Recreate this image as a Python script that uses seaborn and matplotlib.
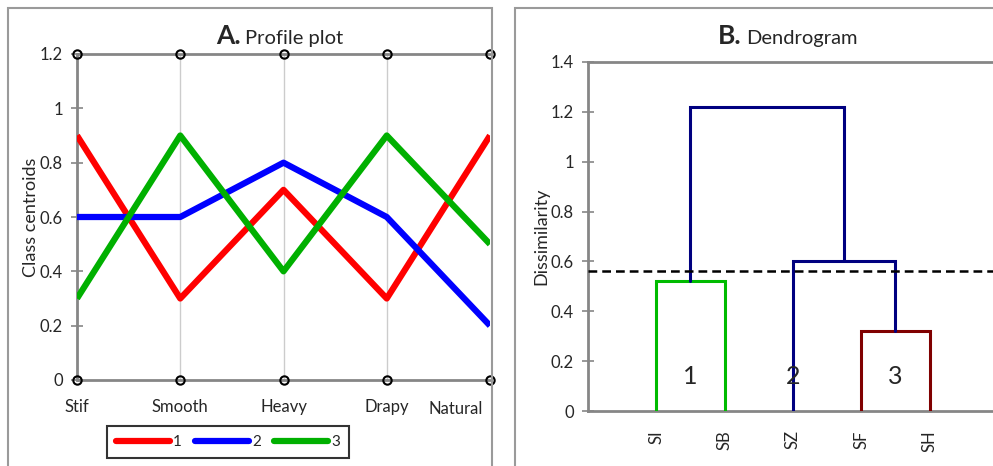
import seaborn as sns
import pandas as pd
import matplotlib.pyplot as plt
import numpy as np
from matplotlib.patches import Rectangle

# profile plot data
attributes = ['Stif', 'Smooth', 'Heavy', 'Drapy', 'Natural']
class1 = [0.9, 0.3, 0.7, 0.3, 0.9]
class2 = [0.6, 0.6, 0.8, 0.6, 0.2]
class3 = [0.3, 0.9, 0.4, 0.9, 0.5]
class_names = ['1', '2', '3']
class_colors = ['#ff0000', '#0000ff', '#00b000']

# dendrogram data
leaves = ['SI', 'SB', 'SZ', 'SF', 'SH']
# (left, right, height); new clusters get ids 5, 6, ...
merges = [('SF', 'SH', 0.32), ('SI', 'SB', 0.52), ('SZ', 5, 0.60), (6, 7, 1.22)]
merge_colors = ['#800000', '#00bb00', '#000080', '#000080']
cut_level = 0.56
cluster_labels = ['1', '2', '3']
cluster_leaf_groups = [['SI', 'SB'], ['SZ'], ['SF', 'SH']]

sns.set_theme(style='white')
plt.rcParams['font.family'] = ['Lato', 'DejaVu Sans']

fig = plt.figure(figsize=(9.93, 4.66), dpi=100)
W, H = 993, 466

def ax_rect(x0, y0, x1, y1):
    return [x0 / W, 1 - y1 / H, (x1 - x0) / W, (y1 - y0) / H]

# panel frames
fig.patches.append(Rectangle((8 / W, -0.05), (492 - 8) / W, 1 - 8 / H + 0.05,
                             transform=fig.transFigure, fill=False,
                             edgecolor='#9a9a9a', lw=1.5))
fig.patches.append(Rectangle((515 / W, -0.05), 0.6, 1 - 8 / H + 0.05,
                             transform=fig.transFigure, fill=False,
                             edgecolor='#9a9a9a', lw=1.5))

grey = '#868686'

# ---- A. profile plot
ax1 = fig.add_axes(ax_rect(77, 54, 490, 380))
df = pd.DataFrame({'attribute': attributes * 3,
                   'pos': list(range(len(attributes))) * 3,
                   'value': class1 + class2 + class3,
                   'cls': sum([[c] * len(attributes) for c in class_names], [])})
sns.lineplot(data=df, x='pos', y='value', hue='cls', palette=class_colors,
             lw=4.5, ax=ax1, legend=False, solid_capstyle='butt', zorder=3)
xs = np.arange(len(attributes))
for yv in [0, 1.2]:
    ax1.plot(xs, [yv] * len(xs), color=grey, lw=2, marker='o', ms=6,
             mfc='none', mec='black', mew=1.5, clip_on=False, zorder=4)
for x in xs[1:-1]:
    ax1.axvline(x, color='#cccccc', lw=1, zorder=1)
ax1.set_xlim(0, 4)
ax1.set_ylim(0, 1.2)
ax1.set_yticks([0, 0.2, 0.4, 0.6, 0.8, 1, 1.2])
ax1.set_yticklabels(['0', '0.2', '0.4', '0.6', '0.8', '1', '1.2'], fontsize=12)
ax1.set_xticks(xs)
# last label sits left of the frame edge, as in the original
ax1.set_xticklabels(attributes[:-1] + [''], fontsize=12)
ax1.text(3.93, -0.108, attributes[-1], ha='right', va='center', fontsize=12)
ax1.tick_params(axis='x', length=0, pad=14)
ax1.tick_params(axis='y', direction='inout', length=8, width=1.2, color=grey,
                pad=6, left=True)
for s in ['top', 'right', 'bottom']:
    ax1.spines[s].set_visible(False)
ax1.spines['left'].set_color(grey)
ax1.spines['left'].set_linewidth(2)
ax1.set_xlabel('')
ax1.set_ylabel('Class centroids', fontsize=13, labelpad=1)

handles = [plt.Line2D([], [], color=c, lw=4.5) for c in class_colors]
leg = fig.legend(handles, class_names, ncol=3, loc='center',
                 bbox_to_anchor=(228 / W, 1 - 442 / H), fontsize=11,
                 handlelength=3.5, handletextpad=0.2, columnspacing=0.9,
                 frameon=True, fancybox=False, borderpad=0.6)
leg.get_frame().set_edgecolor('black')
leg.get_frame().set_linewidth(1.5)

fig.text(241 / W, 1 - 44 / H, 'A.', ha='right', va='baseline',
         fontsize=19, fontweight='bold')
fig.text(245 / W, 1 - 44 / H, 'Profile plot', ha='left', va='baseline',
         fontsize=14.5)

# ---- B. dendrogram
ax2 = fig.add_axes(ax_rect(588, 62, 993, 411))
pos = {name: i + 1 for i, name in enumerate(leaves)}
hgt = {name: 0.0 for name in leaves}
for k, (a, b, h) in enumerate(merges):
    new_id = len(leaves) + k
    xa, xb = pos[a], pos[b]
    ax2.plot([xa, xa, xb, xb], [hgt[a], h, h, hgt[b]],
             color=merge_colors[k], lw=2.2, solid_joinstyle='miter', zorder=3)
    pos[new_id] = (xa + xb) / 2
    hgt[new_id] = h
ax2.axhline(cut_level, color='black', lw=1.8, ls=(0, (3.5, 2)), zorder=4)
for lab, grp in zip(cluster_labels, cluster_leaf_groups):
    cx = np.mean([pos[g] for g in grp])
    ax2.text(cx, 0.14, lab, ha='center', va='center', fontsize=18, zorder=5)
ax2.set_xlim(0, 405 / 68.3)
ax2.set_ylim(0, 1.4)
ax2.set_yticks([0, 0.2, 0.4, 0.6, 0.8, 1, 1.2, 1.4])
ax2.set_yticklabels(['0', '0.2', '0.4', '0.6', '0.8', '1', '1.2', '1.4'],
                    fontsize=12)
ax2.set_xticks([pos[l] for l in leaves])
ax2.set_xticklabels(leaves, rotation=90, fontsize=12)
ax2.tick_params(axis='x', length=0, pad=14)
ax2.tick_params(axis='y', direction='inout', length=8, width=1.2, color=grey,
                pad=6, left=True)
ax2.spines['right'].set_visible(False)
for s in ['top', 'bottom', 'left']:
    ax2.spines[s].set_color(grey)
    ax2.spines[s].set_linewidth(2)
ax2.set_ylabel('Dissimilarity', fontsize=13, labelpad=1)

fig.text(742 / W, 1 - 44 / H, 'B.', ha='right', va='baseline',
         fontsize=19, fontweight='bold')
fig.text(746 / W, 1 - 44 / H, 'Dendrogram', ha='left', va='baseline',
         fontsize=14.5)

fig.savefig('out.png', dpi=100)
